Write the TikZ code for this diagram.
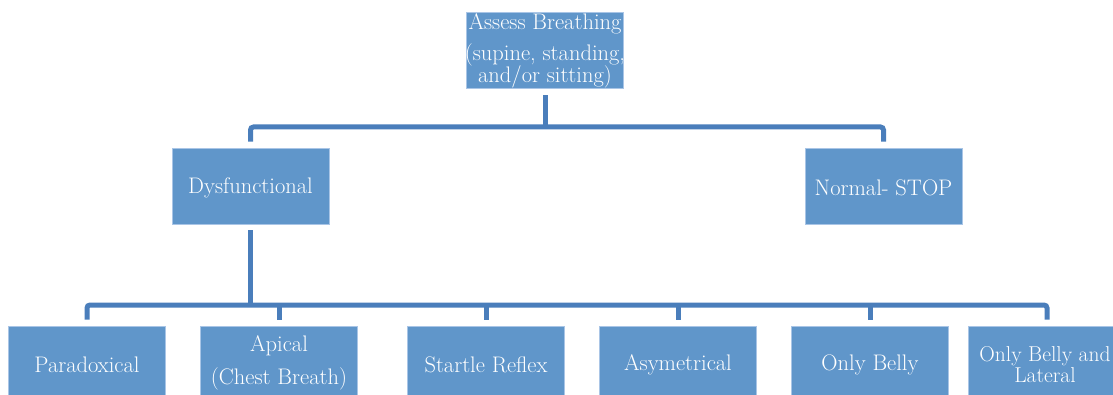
\documentclass[tikz,border=0pt]{standalone}
\usepackage{fontspec}
\definecolor{boxfill}{HTML}{6096CA}
\definecolor{boxedge}{HTML}{A9C5E6}
\definecolor{linecol}{HTML}{4A7EBB}
\begin{document}
\begin{tikzpicture}[x=1pt,y=-1pt,
  box/.style={draw=boxedge, line width=0.8pt, fill=boxfill, minimum width=157pt, minimum height=76pt, inner sep=0pt},
  txt/.style={text=white, font=\fontsize{22.5}{27}\selectfont, align=center, inner sep=0pt},
  conn/.style={draw=linecol, line width=5pt, rounded corners=3pt}]
\useasboundingbox (0,0) rectangle (1113,395);
\clip (0,0) rectangle (1113,395);
% boxes
\node[box] (top) at (545,50) {};
\node[box] (dys) at (250.5,186) {};
\node[box] (norm) at (883.5,186) {};
\node[box] (c1) at (87,364) {};
\node[box] (c2) at (279,364) {};
\node[box] (c3) at (486,364) {};
\node[box] (c4) at (678,364) {};
\node[box] (c5) at (870,364) {};
\node[box] (c6) at (1047,364) {};
% texts
\node[txt] (ttop) at ([yshift=-1pt]top.center) {Assess Breathing\\[4pt](supine, standing,\\[-5pt]and/or sitting)};
\node[txt] (tdys) at ([yshift=-2pt]dys.center) {Dysfunctional};
\node[txt] (tnorm) at ([yshift=-2pt]norm.center) {Normal- STOP};
\node[txt] (t1) at ([yshift=-1pt]c1.center) {Paradoxical};
\node[txt] (t2) at ([yshift=1pt]c2.center) {Apical\\[6pt](Chest Breath)};
\node[txt] (t3) at ([yshift=-1pt]c3.center) {Startle Reflex};
\node[txt] (t4) at ([yshift=-1pt]c4.center) {Asymetrical};
\node[txt] (t5) at ([yshift=-1pt]c5.center) {Only Belly};
\node[txt, font=\fontsize{21.5}{26}\selectfont] (t6) at ([xshift=-2pt,yshift=-1pt]c6.center) {Only Belly and\\[-5pt]Lateral};
% bus coordinates
\coordinate (bus1) at (545,127);
\coordinate (bus2) at (250,305);
% connectors
\draw[conn] ([yshift=-7pt]top.south) -- (top.south |- bus1);
\draw[conn] ([yshift=6pt]dys.north) -- (dys.north |- bus1) -- (norm.north |- bus1) -- ([yshift=6pt]norm.north);
\draw[conn] ([yshift=-6pt]dys.south) -- (dys.south |- bus2);
\draw[conn] ([yshift=6pt]c1.north) -- (c1.north |- bus2) -- (c6.north |- bus2) -- ([yshift=6pt]c6.north);
\foreach \c in {c2,c3,c4,c5}{
  \draw[conn, rounded corners=0pt] (\c.north |- bus2) -- ([yshift=6pt]\c.north);
}
\end{tikzpicture}
\end{document}
